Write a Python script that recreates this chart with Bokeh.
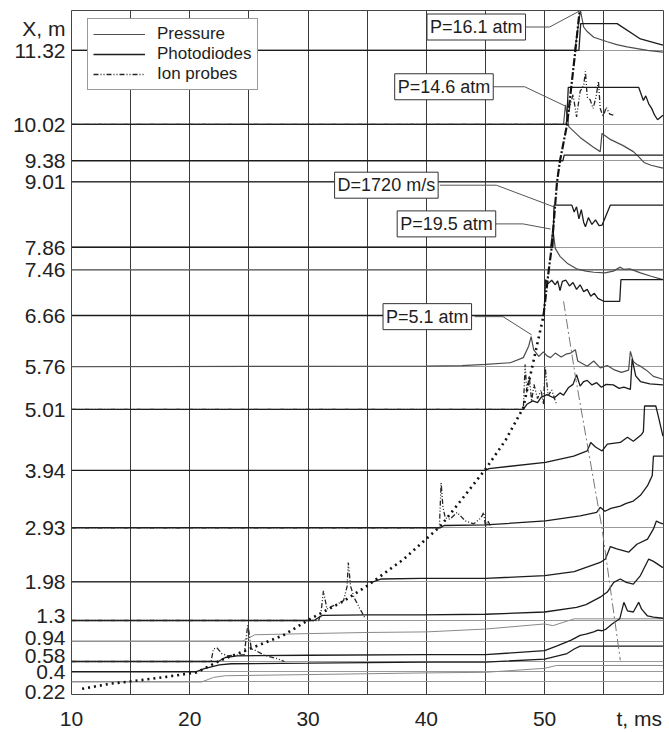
from bokeh.plotting import figure
from bokeh.models import FixedTicker, Label, Legend, LegendItem, Range1d
from bokeh.embed import file_html
from bokeh.resources import INLINE

FONT = "Liberation Sans"

# ---------------- data ----------------
levels = [0.22, 0.4, 0.58, 0.94, 1.3, 1.98, 2.93, 3.94, 5.01, 5.76, 6.66, 7.46, 7.86, 9.01, 9.38, 10.02, 11.32]
level_labels = ["0.22", "0.4", "0.58", "0.94", "1.3", "1.98", "2.93", "3.94", "5.01", "5.76",
                "6.66", "7.46", "7.86", "9.01", "9.38", "10.02", "11.32"]
# where crowded labels are drawn (the reference nudges the lowest ones apart)
label_pos = [0.05, 0.4, 0.685, 1.01, 1.385, 1.98, 2.93, 3.94, 5.01, 5.76,
             6.66, 7.46, 7.86, 9.01, 9.38, 10.02, 11.32]
x_ticks = [10, 20, 30, 40, 50]
x_grid = [15, 20, 25, 30, 35, 40, 45, 50, 55]

# pressure transducers
pr_1132 = ([10, 52.55, 53.03, 53.3, 53.6, 54.15, 55.3, 56.1, 56.97, 58.7, 60],
           [11.32, 11.32, 12.02, 11.73, 11.65, 11.55, 11.47, 11.42, 11.38, 11.32, 11.29])
pr_1002 = ([10, 51.6, 51.76, 52.04, 53.0, 54.1, 54.7, 54.85, 55.5, 56.6, 57.5, 57.9, 58.4, 59.0, 60],
           [10.02, 10.02, 10.36, 9.98, 9.79, 9.62, 9.54, 9.86, 9.76, 9.65, 9.54, 9.46, 9.35, 9.30, 9.25])
pr_786 = ([10, 50.5, 50.7, 50.9, 51.3, 51.9, 52.7, 53.5, 54.15, 55.1, 55.8, 56.4, 56.7, 57.2, 58.1, 59.0, 60],
          [7.86, 7.86, 8.18, 7.84, 7.70, 7.58, 7.48, 7.44, 7.42, 7.41, 7.44, 7.51, 7.47, 7.48, 7.41, 7.35, 7.29])
pr_746 = ([10, 60], [7.46, 7.46])
pr_576 = ([10, 40, 43, 45, 47.1, 48.2, 48.65, 48.86, 49.07, 49.5, 49.9, 50.2, 50.5, 50.9, 51.4, 51.8,
           52.2, 52.6, 52.8, 53.6, 54.15, 54.7, 55.3, 55.84, 56.5, 57.1, 57.25, 57.5, 57.8, 58.1, 58.6, 59.2, 60],
          [5.76, 5.77, 5.78, 5.80, 5.83, 5.92, 6.12, 6.29, 6.06, 5.94, 6.02, 5.95, 5.92, 6.00, 5.93, 5.98,
           6.00, 6.06, 5.86, 5.77, 5.86, 5.74, 5.78, 5.71, 5.66, 5.70, 6.03, 5.85, 5.80, 5.77, 5.70, 5.59, 5.54])
pr_094 = ([10, 24.5, 25.5, 30, 35, 40, 45, 50, 50.7, 52.5, 60],
          [0.94, 0.94, 1.05, 1.07, 1.09, 1.10, 1.15, 1.24, 1.21, 1.33, 1.33])
pr_022 = ([10, 21.0, 22.0, 23.0, 30, 40, 45, 50, 51, 60],
          [0.22, 0.22, 0.30, 0.33, 0.35, 0.38, 0.39, 0.46, 0.51, 0.51])

# photodiodes
pd_1132 = ([10, 52.9, 53.05, 56.13, 58.1, 60], [11.32, 11.32, 11.79, 11.79, 11.52, 11.41])
pd_1002 = ([10, 51.85, 52.0, 57.95, 58.35, 58.55, 58.8, 59.05, 59.3, 59.55, 60],
           [10.02, 10.02, 10.67, 10.67, 10.44, 10.52, 10.38, 10.30, 10.18, 10.10, 10.18])
pd_938 = ([10, 51.55, 51.65, 60], [9.38, 9.38, 9.48, 9.48])
pd_901 = ([10, 60], [9.01, 9.01])
pd_786 = ([10, 50.7, 50.8, 52.3, 52.5, 52.7, 52.9, 53.1, 53.3, 53.45, 53.7, 54.0, 54.3, 54.6, 54.86, 55.56, 60],
          [7.86, 7.86, 8.60, 8.60, 8.48, 8.57, 8.36, 8.52, 8.30, 8.22, 8.38, 8.26, 8.34, 8.24, 8.25, 8.60, 8.60])
pd_666 = ([10, 49.95, 50.07, 50.3, 50.6, 50.9, 51.1, 51.3, 51.5, 51.8, 52.1, 52.4, 52.7, 53.0, 53.3, 53.6,
           53.9, 54.2, 54.5, 55.0, 56.35, 56.45, 60],
          [6.66, 6.66, 7.29, 7.22, 7.28, 7.20, 7.27, 7.10, 7.26, 7.28, 7.18, 7.24, 7.12, 7.20, 7.08, 7.12,
           7.00, 7.05, 6.96, 6.91, 6.91, 7.29, 7.29])
pd_501 = ([10, 48.2, 48.5, 49.0, 49.4, 49.7, 50.2, 50.8, 51.3, 51.6, 52.0, 52.4, 52.7, 53.0, 53.3, 53.6,
           54.0, 54.4, 54.8, 55.2, 55.8, 56.3, 56.7, 57.25, 57.4, 57.7, 58.1, 58.9, 60],
          [5.01, 5.01, 5.10, 5.16, 5.13, 5.22, 5.27, 5.21, 5.30, 5.26, 5.39, 5.45, 5.62, 5.42, 5.50, 5.52,
           5.44, 5.48, 5.40, 5.45, 5.44, 5.38, 5.40, 5.36, 5.90, 5.60, 5.50, 5.46, 5.44])
pd_394 = ([10, 45.0, 45.3, 50.07, 52.46, 53.6, 53.9, 54.3, 54.86, 55.3, 56.4, 57.0, 57.5, 58.2, 58.35,
           58.45, 59.4, 59.6, 60],
          [3.94, 3.94, 3.97, 4.08, 4.19, 4.28, 4.43, 4.35, 4.28, 4.40, 4.43, 4.52, 4.45, 4.57, 4.62,
           5.07, 5.07, 4.90, 4.54])
pd_293 = ([10, 41.2, 41.5, 45, 50.07, 53.0, 54.4, 54.7, 55.1, 55.6, 56.4, 56.9, 57.5, 58.1, 58.7, 58.95,
           59.1, 59.2, 60],
          [2.93, 2.93, 2.97, 2.98, 3.05, 3.14, 3.20, 3.29, 3.22, 3.27, 3.31, 3.36, 3.40, 3.50, 3.67, 3.78,
           3.85, 4.19, 4.19])
pd_198 = ([10, 35.5, 36.2, 39.5, 45, 50, 52.5, 54.7, 55.14, 55.56, 56.1, 57.1, 57.8, 58.7, 59.2, 59.45, 59.7, 60],
          [1.98, 1.98, 2.03, 2.04, 2.04, 2.09, 2.16, 2.32, 2.38, 2.60, 2.56, 2.50, 2.64, 2.73, 2.91, 3.05, 3.02, 3.00])
pd_130 = ([10, 30.5, 31.2, 35, 39.5, 45, 50, 52.7, 53.5, 54.7, 55.3, 55.84, 56.4, 56.9, 57.5, 58.1, 58.8, 59.2, 60],
          [1.30, 1.30, 1.39, 1.40, 1.40, 1.41, 1.45, 1.53, 1.58, 1.71, 1.80, 1.97, 2.03, 1.97, 1.94, 2.09, 2.38, 2.34, 2.23])
pd_058 = ([10, 22.4, 23.0, 24, 30, 40, 45, 50, 51, 52.2, 53, 53.5, 54.15, 54.5, 54.86, 55.2, 55.7, 56.35,
           56.7, 57.0, 57.5, 57.95, 58.2, 58.7, 59.2, 60],
          [0.58, 0.58, 0.65, 0.68, 0.69, 0.70, 0.70, 0.77, 0.85, 0.95, 1.04, 1.06, 1.10, 1.13, 1.12, 1.15, 1.24, 1.33,
           1.62, 1.47, 1.45, 1.62, 1.50, 1.38, 1.36, 1.34])
pd_040 = ([10, 20.5, 21.3, 22.5, 23.5, 30, 40, 45, 50, 51.9, 52.5, 53, 60],
          [0.40, 0.40, 0.46, 0.52, 0.54, 0.55, 0.57, 0.57, 0.62, 0.72, 0.80, 0.85, 0.85])

# ion probes
ip_1002 = ([10, 51.8, 52.1, 52.4, 52.7, 53.0, 53.3, 53.45, 53.6, 53.85, 54.1, 54.35, 54.55, 54.7, 54.95, 55.2, 55.5, 55.85],
           [10.02, 10.02, 10.30, 10.55, 10.15, 10.60, 10.70, 10.95, 10.50, 10.45, 10.30, 10.50, 10.78, 10.30, 10.15, 10.32, 10.20, 10.18])
ip_501 = ([10, 48.2, 48.35, 48.5, 48.7, 48.9, 49.1, 49.4, 49.7, 49.9, 50.05, 50.3, 50.6, 51.0],
          [5.01, 5.01, 5.80, 5.30, 5.60, 5.15, 5.45, 5.20, 5.35, 5.10, 5.75, 5.25, 5.35, 5.10])
ip_293 = ([10, 41.1, 41.25, 41.4, 41.6, 42.0, 42.6, 43.3, 44.0, 44.6, 44.85, 45.0, 45.2, 45.5],
          [2.93, 2.93, 3.72, 3.30, 3.10, 3.08, 3.20, 3.05, 3.00, 3.10, 3.20, 2.95, 3.05, 2.93])
ip_130 = ([10, 30.9, 31.1, 31.3, 31.6, 32.0, 32.5, 33.0, 33.3, 33.4, 33.6, 33.9, 34.4, 34.8],
          [1.30, 1.30, 1.45, 1.82, 1.50, 1.55, 1.59, 1.65, 1.90, 2.32, 1.90, 1.70, 1.50, 1.35])
ip_058 = ([10, 21.8, 22.0, 22.3, 22.7, 23.2, 24.6, 24.9, 25.0, 25.2, 25.5, 26.3, 27.4, 28.0],
          [0.58, 0.58, 0.80, 0.82, 0.72, 0.68, 0.70, 1.22, 1.10, 0.80, 0.78, 0.69, 0.63, 0.58])

# flame / detonation front trajectory and reflected wave
front_slow = ([10.9, 13.3, 15.8, 18.0, 20.6, 22.6, 25.4, 27.9, 30.2, 33.0, 35.0, 38.1, 41.2, 43.0, 45.0, 46.7, 48.2, 48.4, 49.9],
              [0.10, 0.19, 0.25, 0.31, 0.39, 0.60, 0.83, 1.04, 1.33, 1.64, 1.91, 2.38, 2.96, 3.43, 3.96, 4.47, 5.04, 5.24, 6.65])
front_fast = ([49.9, 50.35, 50.6, 51.05, 51.3, 51.9, 52.6, 52.95],
              [6.65, 7.46, 7.86, 9.01, 9.38, 10.02, 11.32, 12.0])
reflected = ([51.6, 52.6, 54.86, 56.4], [6.91, 5.59, 2.91, 0.60])

# annotations: text, box centre (t, X), leader path
notes = [
    ("P=16.1 atm", 44.22, 11.73, [48.15, 50.42, 53.03], [11.73, 11.73, 12.02]),
    ("P=14.6 atm", 41.49, 10.68, [45.5, 48.31, 51.76], [10.68, 10.68, 10.34]),
    ("D=1720 m/s", 36.62, 8.95, [41.14, 45.92, 50.77], [8.95, 8.95, 8.57]),
    ("P=19.5 atm", 41.70, 8.27, [45.64, 48.17, 50.5], [8.27, 8.27, 8.18]),
    ("P=5.1 atm", 40.08, 6.64, [44.09, 46.48, 48.9], [6.64, 6.64, 6.32]),
]

# ---------------- figure ----------------
p = figure(width=669, height=732, output_backend="svg", toolbar_location=None,
           x_range=Range1d(10, 60.05), y_range=Range1d(0, 12.02),
           min_border_left=71, min_border_right=6, min_border_top=10, min_border_bottom=36)
p.background_fill_color = "white"
p.border_fill_color = "white"
p.outline_line_color = "#444444"
p.outline_line_width = 1

p.xgrid.ticker = FixedTicker(ticks=x_grid)
p.xgrid.grid_line_color = "#3a3a3a"
p.xgrid.grid_line_width = 1
p.ygrid.ticker = FixedTicker(ticks=levels)
p.ygrid.grid_line_color = "#9a9a9a"
p.ygrid.grid_line_width = 1.2

# y axis
p.yaxis.ticker = FixedTicker(ticks=label_pos + [11.71])
ov = {lp: lt for lp, lt in zip(label_pos, level_labels)}
ov[11.71] = "X, m"
p.yaxis.major_label_overrides = ov
p.yaxis.major_tick_out = 0
p.yaxis.major_tick_in = 0
p.yaxis.minor_tick_out = 0
p.yaxis.minor_tick_in = 0
p.yaxis.axis_line_color = None
p.yaxis.major_label_standoff = 6

# x axis
p.xaxis.ticker = FixedTicker(ticks=x_ticks + [58.0])
xov = {t: str(t) for t in x_ticks}
xov[58.0] = "t, ms"
p.xaxis.major_label_overrides = xov
p.xaxis.major_tick_out = 0
p.xaxis.major_tick_in = 0
p.xaxis.minor_tick_out = 0
p.xaxis.minor_tick_in = 0
p.xaxis.axis_line_color = None
p.xaxis.major_label_standoff = 12

for ax in (p.xaxis[0], p.yaxis[0]):
    ax.major_label_text_font = FONT
    ax.major_label_text_font_size = "21px"
    ax.major_label_text_color = "#222222"

PR = dict(line_color="#4d4d4d", line_width=1.2)
PD = dict(line_color="#1c1c1c", line_width=1.3)
GR = dict(line_color="#8a8a8a", line_width=1.0)
IP = dict(line_color="#262626", line_width=1.3, line_dash="5 2 1 2 1 2")

r_pr = None
for tr in [pr_1132, pr_1002, pr_786, pr_746, pr_576]:
    r = p.line(tr[0], tr[1], **PR)
    r_pr = r_pr or r
for tr in [pr_094, pr_022]:
    p.line(tr[0], tr[1], **GR)
r_pd = None
for tr in [pd_1132, pd_1002, pd_938, pd_901, pd_786, pd_666, pd_501, pd_394, pd_293, pd_198, pd_130, pd_058, pd_040]:
    r = p.line(tr[0], tr[1], **PD)
    r_pd = r_pd or r
r_ip = None
for tr in [ip_1002, ip_501, ip_293, ip_130, ip_058]:
    r = p.line(tr[0], tr[1], **IP)
    r_ip = r_ip or r

p.line(front_slow[0], front_slow[1], line_color="#111111", line_width=2.6, line_dash="2 4")
p.line(front_fast[0], front_fast[1], line_color="#111111", line_width=2.2, line_dash="8 2 2 2")
p.line(reflected[0], reflected[1], line_color="#777777", line_width=1.0, line_dash="10 3 2 3")

for text, tx, ty, lx, ly in notes:
    p.line(lx, ly, line_color="#555555", line_width=1.0)
    p.add_layout(Label(x=tx, y=ty, text=text, text_align="center", text_baseline="middle",
                       text_font=FONT, text_font_size="18px", text_color="#1e1e1e",
                       background_fill_color="white", background_fill_alpha=1.0,
                       border_line_color="#333333", border_line_width=1, padding=3))

legend = Legend(items=[LegendItem(label="Pressure", renderers=[r_pr]),
                       LegendItem(label="Photodiodes", renderers=[r_pd]),
                       LegendItem(label="Ion probes", renderers=[r_ip])],
                location=(16, 604))
legend.label_text_font = FONT
legend.label_text_font_size = "17px"
legend.label_text_color = "#1e1e1e"
legend.label_height = 20
legend.label_standoff = 12
legend.glyph_width = 52
legend.glyph_height = 20
legend.spacing = 0
legend.padding = 5
legend.margin = 0
legend.border_line_color = "#333333"
legend.border_line_width = 1
legend.background_fill_alpha = 1.0
p.add_layout(legend)

open("out.html", "w").write(file_html(p, INLINE))
